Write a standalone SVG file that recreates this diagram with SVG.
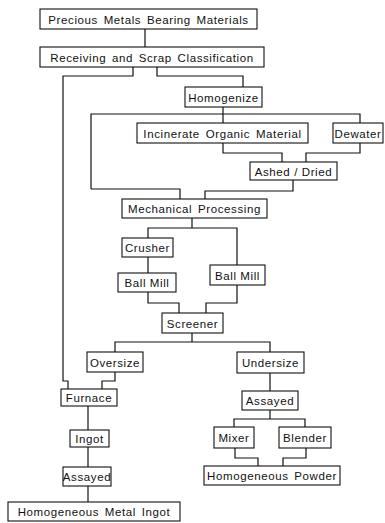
<svg xmlns="http://www.w3.org/2000/svg" width="385" height="523" viewBox="0 0 385 523">
<style>
.b{fill:#fff;stroke:#111;stroke-width:1.1}
.t{font-family:"Liberation Sans",Arial,sans-serif;font-size:11.5px;fill:#111;text-anchor:middle;letter-spacing:0.6px;word-spacing:2px}
.n{word-spacing:0}
.c{fill:none;stroke:#111;stroke-width:1.2}
</style>
<rect width="385" height="523" fill="#fff"/>
<g id="connectors">
<polyline class="c" points="145,29 145,47"/>
<polyline class="c" points="133,67 133,76 63,76 63,381 68,381 68,389"/>
<polyline class="c" points="157,67 157,76 243,76 243,87"/>
<polyline class="c" points="223,107 223,123"/>
<polyline class="c" points="91,189 91,114 360,114 360,123"/>
<polyline class="c" points="91,189 180,189 180,199"/>
<polyline class="c" points="223,143 223,153 282,153 282,162"/>
<polyline class="c" points="360,143 360,153 306,153 306,162"/>
<polyline class="c" points="293,180 293,191 205,191 205,199"/>
<polyline class="c" points="192,218 192,228"/>
<polyline class="c" points="148,238 148,228 237,228 237,265"/>
<polyline class="c" points="148,257 148,273"/>
<polyline class="c" points="148,292 148,303 179,303 179,313"/>
<polyline class="c" points="237,285 237,303 206,303 206,313"/>
<polyline class="c" points="192,333 192,342"/>
<polyline class="c" points="115,352 115,342 270,342 270,352"/>
<polyline class="c" points="115,372 115,381 102,381 102,389"/>
<polyline class="c" points="88,406 88,430"/>
<polyline class="c" points="88,447 88,467"/>
<polyline class="c" points="88,486 88,502"/>
<polyline class="c" points="270,373 270,391"/>
<polyline class="c" points="270,410 270,419"/>
<polyline class="c" points="234,427 234,419 305,419 305,427"/>
<polyline class="c" points="235,448 235,458 258,458 258,466"/>
<polyline class="c" points="306,448 306,458 283,458 283,466"/>
</g>
<g id="precious"><rect class="b" x="40" y="9" width="217" height="20"/><text class="t" x="148.5" y="23.5">Precious Metals Bearing Materials</text></g>
<g id="receiving"><rect class="b" x="40" y="47" width="224" height="20"/><text class="t" x="152" y="61.5">Receiving and Scrap Classification</text></g>
<g id="homogenize"><rect class="b" x="185" y="87" width="77" height="20"/><text class="t" x="223.5" y="101.5">Homogenize</text></g>
<g id="incinerate"><rect class="b" x="137" y="123" width="171" height="20"/><text class="t" x="222.5" y="137.5">Incinerate Organic Material</text></g>
<g id="dewater"><rect class="b" x="333" y="123" width="50" height="20"/><text class="t" x="358" y="137.5">Dewater</text></g>
<g id="ashed"><rect class="b" x="250" y="162" width="87" height="18"/><text class="t n" x="293.5" y="175.5">Ashed / Dried</text></g>
<g id="mechanical"><rect class="b" x="122" y="199" width="145" height="19"/><text class="t" x="194.5" y="213">Mechanical Processing</text></g>
<g id="crusher"><rect class="b" x="122" y="238" width="51" height="19"/><text class="t" x="147.5" y="252">Crusher</text></g>
<g id="ballmill1"><rect class="b" x="118" y="273" width="58" height="19"/><text class="t n" x="147" y="287">Ball Mill</text></g>
<g id="ballmill2"><rect class="b" x="210" y="265" width="55" height="20"/><text class="t n" x="237.5" y="279.5">Ball Mill</text></g>
<g id="screener"><rect class="b" x="162" y="313" width="61" height="20"/><text class="t" x="192.5" y="327.5">Screener</text></g>
<g id="oversize"><rect class="b" x="87" y="352" width="56" height="20"/><text class="t" x="115" y="366.5">Oversize</text></g>
<g id="undersize"><rect class="b" x="237" y="352" width="67" height="21"/><text class="t" x="270.5" y="367">Undersize</text></g>
<g id="furnace"><rect class="b" x="61" y="389" width="56" height="17"/><text class="t" x="89" y="402">Furnace</text></g>
<g id="ingot"><rect class="b" x="70" y="430" width="39" height="17"/><text class="t" x="89.5" y="443">Ingot</text></g>
<g id="assayed1"><rect class="b" x="63" y="467" width="48" height="19"/><text class="t" x="87" y="481">Assayed</text></g>
<g id="metalingot"><rect class="b" x="8" y="502" width="172" height="19"/><text class="t" x="94" y="516">Homogeneous Metal Ingot</text></g>
<g id="assayed2"><rect class="b" x="242" y="391" width="56" height="19"/><text class="t" x="270" y="405">Assayed</text></g>
<g id="mixer"><rect class="b" x="214" y="427" width="40" height="21"/><text class="t" x="234" y="442">Mixer</text></g>
<g id="blender"><rect class="b" x="279" y="427" width="52" height="21"/><text class="t" x="305" y="442">Blender</text></g>
<g id="powder"><rect class="b" x="204" y="466" width="136" height="19"/><text class="t" x="272" y="480">Homogeneous Powder</text></g>
</svg>
